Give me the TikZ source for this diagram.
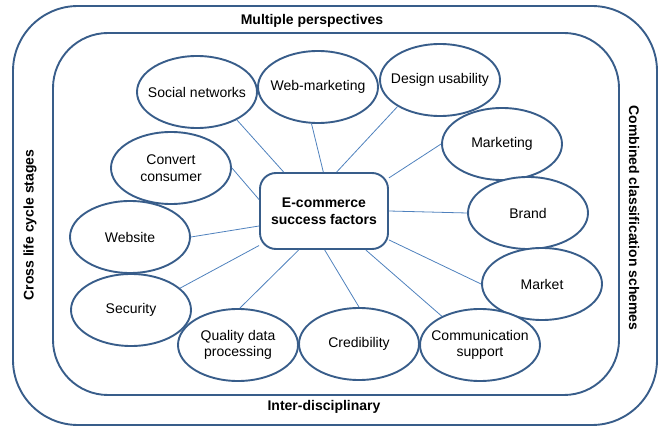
\documentclass[tikz,border=0pt]{standalone}
\usepackage{fontspec}
\setmainfont{Liberation Sans}
\usetikzlibrary{shapes.geometric}
\definecolor{edgeblue}{HTML}{385D8A}
\definecolor{linkblue}{HTML}{4F81BD}
\tikzset{
  factor/.style={ellipse, draw=edgeblue, line width=1.9pt, fill=white,
    minimum width=120pt, minimum height=72pt, inner xsep=-22pt, inner ysep=0pt, align=center,
    font=\fontsize{14}{16.5}\selectfont},
  hub/.style={rectangle, rounded corners=16pt, draw=edgeblue, line width=1.9pt, fill=white,
    minimum width=128pt, minimum height=76pt, inner sep=0pt, align=center,
    font=\fontsize{14}{17}\selectfont\bfseries},
  frame/.style={draw=edgeblue, line width=1.9pt},
  link/.style={draw=linkblue, line width=0.8pt},
  side/.style={font=\fontsize{14}{16}\selectfont\bfseries, inner sep=0pt}
}
\begin{document}
\begin{tikzpicture}[x=1pt,y=-1pt]
\useasboundingbox (0,0) rectangle (664,427);
\draw[frame, rounded corners=65pt] (13,6) rectangle (657,425);
\draw[frame, rounded corners=55pt] (53,33) rectangle (619,395);
\node[side] (mp) at (312,21) {Multiple perspectives};
\node[side] (id) at (324,407) {Inter-disciplinary};
\node[side, rotate=90] (cl) at (30,225) {Cross life cycle stages};
\node[side, rotate=-90] (cc) at (634,218) {Combined classification schemes};

\node[hub] (ec) at (324,211) {E-commerce\\success factors};

\node[factor] (sn) at (197,92) {Social networks};
\node[factor] (wm) at (318,87) {Web-marketing};
\node[factor] (du) at (440,80) {Design usability};
\node[factor] (mk) at (502,144) {Marketing};
\node[factor] (br) at (528,213) {Brand};
\node[factor] (mt) at (542,284) {Market};
\node[factor] (cs) at (480,345) {Communication\\support};
\node[factor] (cr) at (359,344) {Credibility};
\node[factor] (qd) at (238,345) {Quality data\\processing};
\node[factor] (se) at (131,310) {Security};
\node[factor] (ws) at (130,237) {Website};
\node[factor] (cv) at (171,168) {Convert\\consumer};

\draw[link] (sn.-35) -- (ec.136);
\draw[link] (wm.260) -- (ec.91);
\draw[link] (du.212) -- (ec.72);
\draw[link] (mk.180) -- (ec.27);
\draw[link] (br.180) -- (ec.0);
\draw[link] (mt.180) -- (ec.-24);
\draw[link] (cs.143) -- (ec.-43);
\draw[link] (cr.90) -- (ec.-89);
\draw[link] (qd.87) -- (ec.-123);
\draw[link] (se.24) -- (ec.-152);
\draw[link] (ws.0) -- (ec.-167);
\draw[link] (cv.0) -- (ec.170);
\end{tikzpicture}
\end{document}
